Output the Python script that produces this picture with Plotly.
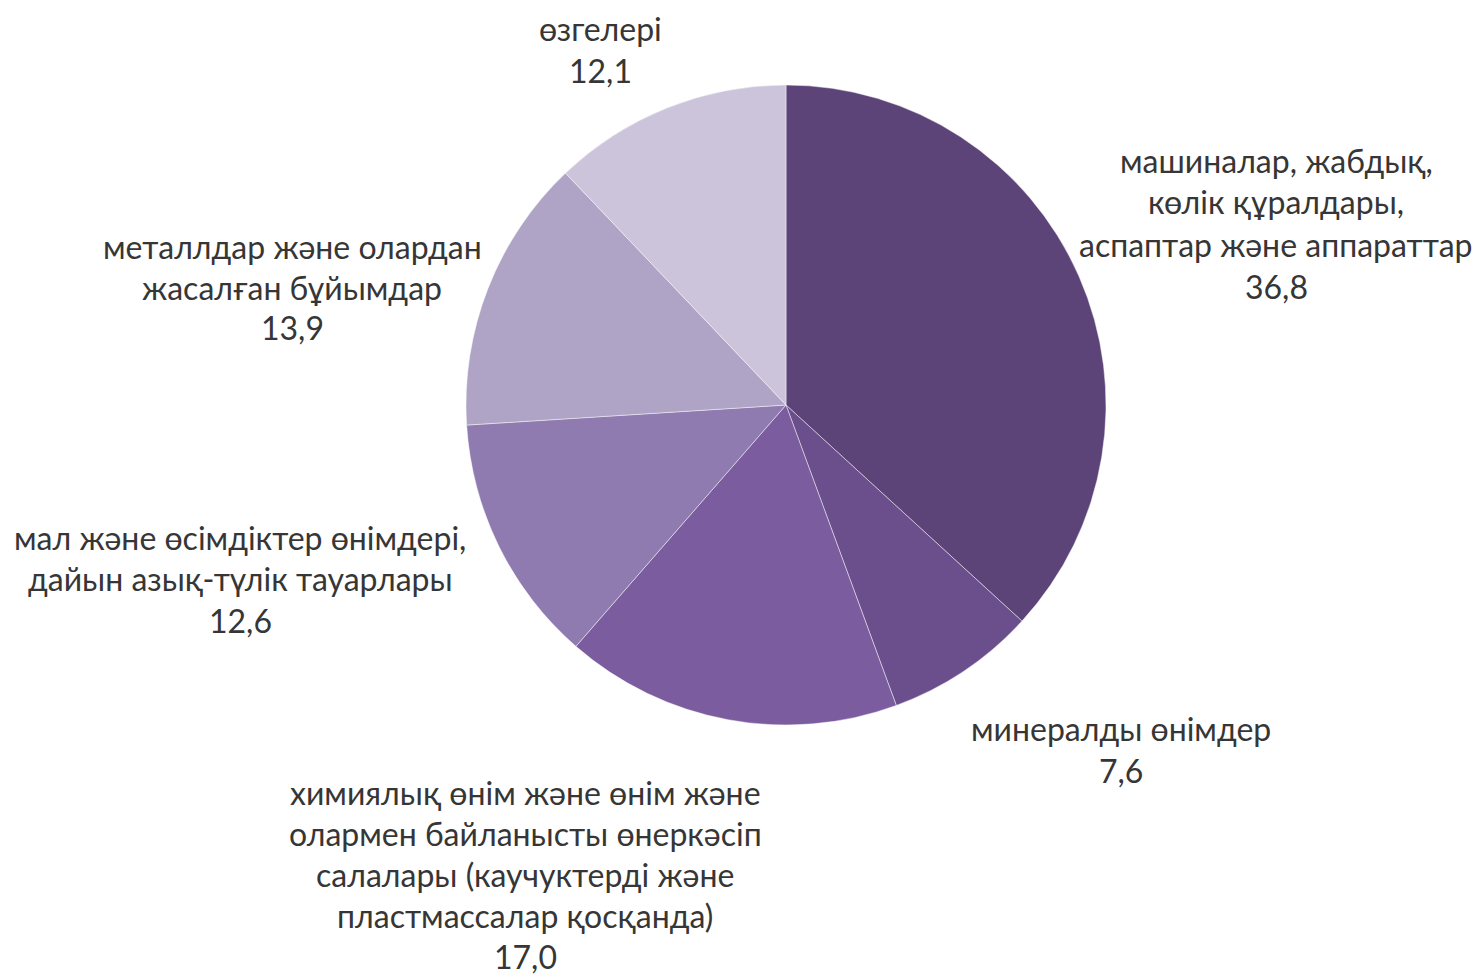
import plotly.graph_objects as go

categories = [
    "машиналар, жабдық,<br>көлік құралдары,<br>аспаптар және аппараттар",
    "минералды өнімдер",
    "химиялық өнім және өнім және<br>олармен байланысты өнеркәсіп<br>салалары (каучуктерді және<br>пластмассалар қосқанда)",
    "мал және өсімдіктер өнімдері,<br>дайын азық-түлік тауарлары",
    "металлдар және олардан<br>жасалған бұйымдар",
    "өзгелері",
]
values = [36.8, 7.6, 17.0, 12.6, 13.9, 12.1]
value_labels = ["36,8", "7,6", "17,0", "12,6", "13,9", "12,1"]
colors = ["#5C4479", "#6A4F8C", "#7B5C9E", "#8F7BB0", "#AFA3C6", "#CCC4DA"]

W, H = 1482, 976
OFF = 8  # page body margin
# label block centre x, first-line y (page pixels), line step
label_pos = [(1276, 160, 42), (1121, 728, 42), (525, 792, 41.2), (240, 537, 41.5), (292, 247, 40.5), (600, 29, 42)]

cx0, cy0, R = 786 - OFF, 405 - OFF, 320

fig = go.Figure(go.Pie(
    labels=[c.replace("<br>", " ") for c in categories],
    values=values,
    sort=False,
    direction="clockwise",
    rotation=0,
    marker=dict(colors=colors, line=dict(color="rgba(255,255,255,0.45)", width=1)),
    textinfo="none",
    hoverinfo="skip",
    showlegend=False,
    domain=dict(x=[(cx0 - R) / W, (cx0 + R) / W], y=[1 - (cy0 + R) / H, 1 - (cy0 - R) / H]),
))

annotations = []
for cat, val, (cx, cy, step) in zip(categories, value_labels, label_pos):
    lines = cat.split("<br>") + [val]
    for i, ln in enumerate(lines):
        annotations.append(dict(
            text=ln, x=(cx - OFF) / W, y=1 - (cy - OFF + i * step) / H,
            xref="paper", yref="paper", showarrow=False,
            xanchor="center", yanchor="middle",
            font=dict(family="Lato", size=32, color="#363636"),
        ))

fig.update_layout(
    width=W, height=H,
    margin=dict(l=0, r=0, t=0, b=0),
    paper_bgcolor="white", plot_bgcolor="white",
    annotations=annotations,
)
fig.write_html("out.html")
